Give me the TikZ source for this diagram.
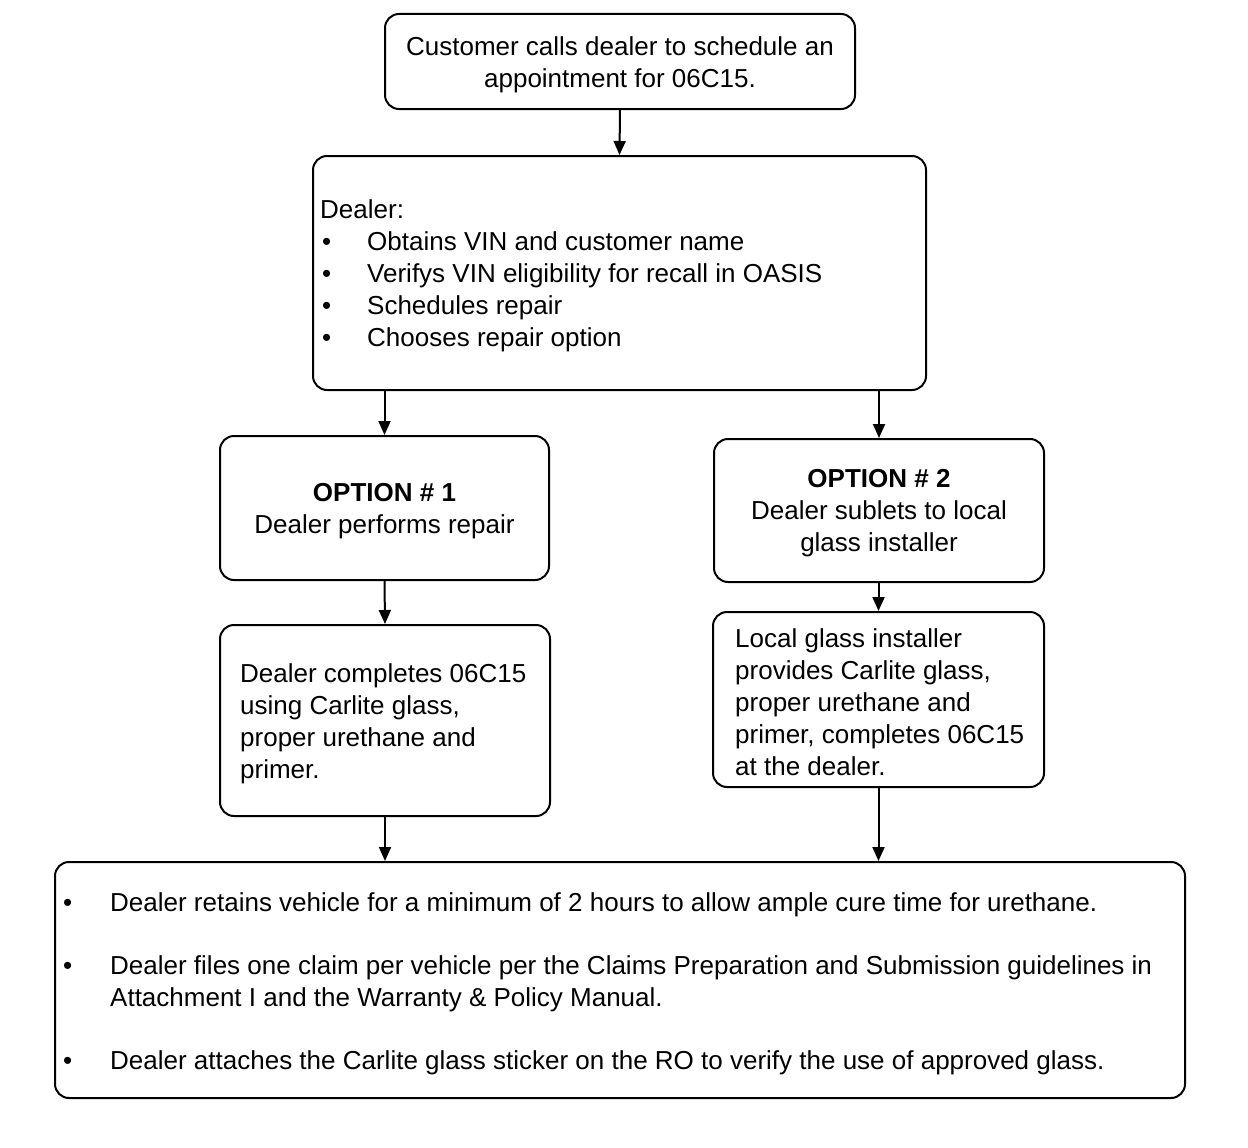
\documentclass[tikz,border=0pt]{standalone}
\usepackage{fontspec}
\setmainfont{Liberation Sans}
\usetikzlibrary{arrows.meta}
\begin{document}
\begin{tikzpicture}[x=1pt,y=-1pt,
  box/.style={draw, line width=2pt, rounded corners=14pt, inner sep=0pt},
  txt/.style={font=\fontsize{26}{32}\selectfont, inner sep=0pt, yshift=-3pt},
  arr/.style={line width=2pt, -{Triangle[width=12pt,length=14pt]}}]
\useasboundingbox (0,0) rectangle (1248,1148);
% boxes
\node[box, minimum width=470pt, minimum height=95pt] (b1) at (620,61.5) {};
\node[box, minimum width=613pt, minimum height=234pt] (b2) at (619.5,273) {};
\node[box, minimum width=329pt, minimum height=144pt] (b3) at (384.5,508) {};
\node[box, minimum width=330pt, minimum height=143pt] (b4) at (879,510.5) {};
\node[box, minimum width=330pt, minimum height=191pt] (b5) at (385,720.5) {};
\node[box, minimum width=331pt, minimum height=175pt] (b6) at (878.5,699.5) {};
\node[box, minimum width=1130pt, minimum height=236pt] (b7) at (620,980) {};
% texts
\node[txt, align=center] (t1) at (b1) {Customer calls dealer to schedule an\\appointment for 06C15.};
\node[txt, align=left, anchor=west] (t2) at (320,273) {Dealer:\\
\makebox[47pt][l]{\hspace{2pt}\textbullet}Obtains VIN and customer name\\
\makebox[47pt][l]{\hspace{2pt}\textbullet}Verifys VIN eligibility for recall in OASIS\\
\makebox[47pt][l]{\hspace{2pt}\textbullet}Schedules repair\\
\makebox[47pt][l]{\hspace{2pt}\textbullet}Chooses repair option};
\node[txt, align=center] (t3) at (b3) {\textbf{OPTION \# 1}\\Dealer performs repair};
\node[txt, align=center] (t4) at (b4) {\textbf{OPTION \# 2}\\Dealer sublets to local\\glass installer};
\node[txt, align=left, anchor=west] (t5) at (240,720.5) {Dealer completes 06C15\\using Carlite glass,\\proper urethane and\\primer.};
\node[txt, align=left, anchor=west] (t6) at (735,699.5) {Local glass installer\\provides Carlite glass,\\proper urethane and\\primer, completes 06C15\\at the dealer.};
\node[txt, align=left, anchor=west] (t7) at (63,981) {%
\makebox[47pt][l]{\textbullet}Dealer retains vehicle for a minimum of 2 hours to allow ample cure time for urethane.\\[31pt]
\makebox[47pt][l]{\textbullet}Dealer files one claim per vehicle per the Claims Preparation and Submission guidelines in\\
\hspace*{47pt}Attachment I and the Warranty \& Policy Manual.\\[31pt]
\makebox[47pt][l]{\textbullet}Dealer attaches the Carlite glass sticker on the RO to verify the use of approved glass.};
% connectors
\draw[arr] (b1.south) -- (b2.north);
\draw[arr] (b2.south -| b3.north) -- (b3.north);
\draw[arr] (b2.south -| b4.north) -- (b4.north);
\draw[arr] (b3.south) -- (b5.north);
\draw[arr] (b4.south -| b6.north) -- (b6.north);
\draw[arr] (b5.south) -- (b5.south |- b7.north);
\draw[arr] (b6.south) -- (b6.south |- b7.north);
\end{tikzpicture}
\end{document}
